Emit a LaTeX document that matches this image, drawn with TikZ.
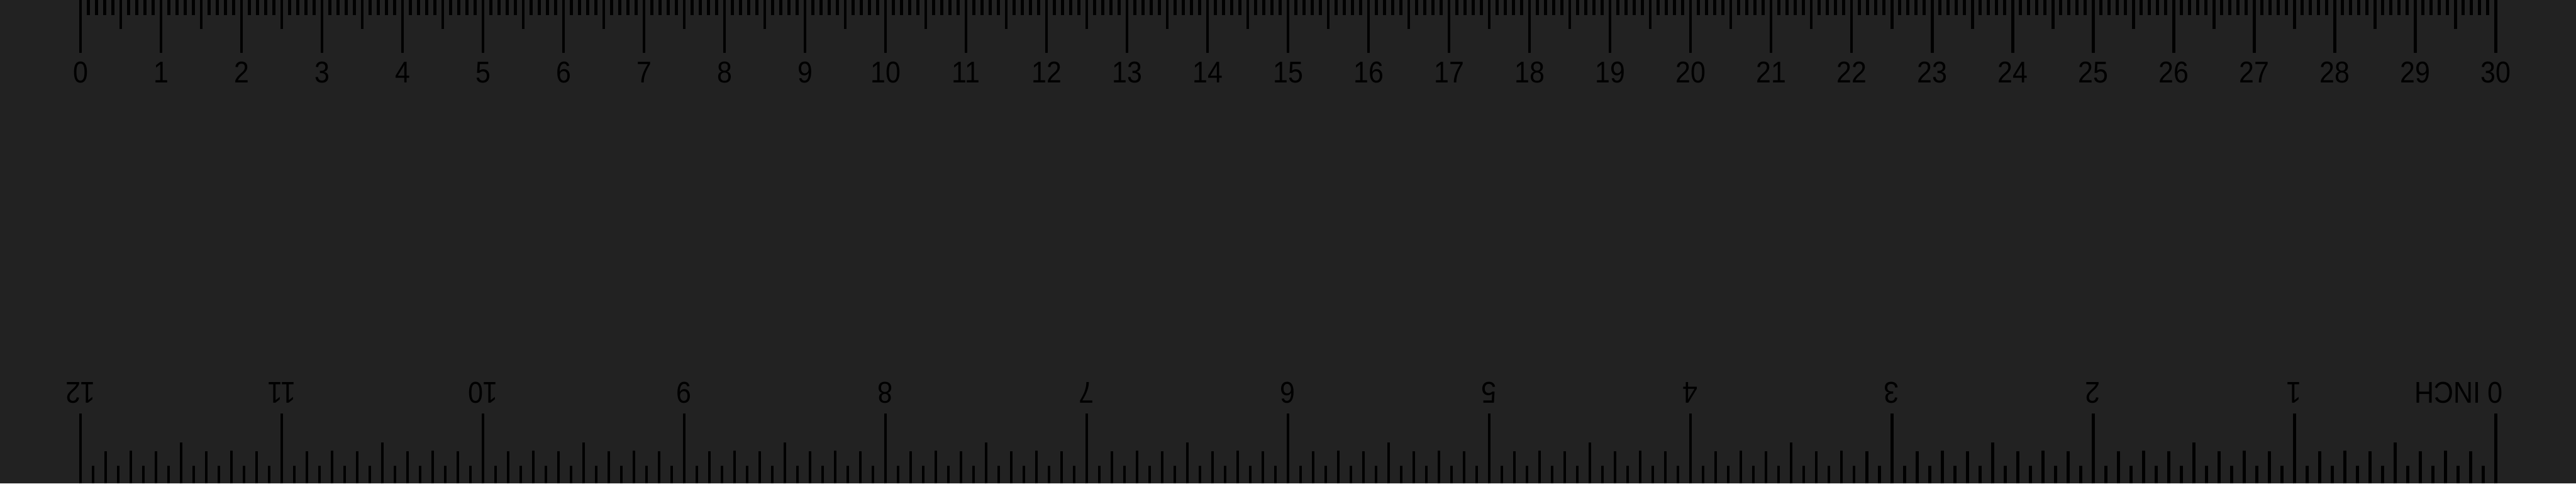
\documentclass[tikz,border=0pt]{standalone}
\usepackage{fontspec}
\setmainfont{Liberation Sans}[FakeStretch=0.9]
\usepackage{tikz}
\usetikzlibrary{positioning}
\definecolor{rulerbg}{RGB}{34, 34, 34}
\definecolor{tickblack}{RGB}{0, 0, 0}

\begin{document}
\begin{tikzpicture}[x=1cm, y=1cm,
    rulertick/.style={draw=tickblack, line width=1.1pt},
    scalelabel/.style={font=\fontsize{10.6}{12}\selectfont, text=tickblack, inner sep=0pt, anchor=base}]
        % dark background
        \fill[rulerbg] (0, 0) rectangle (32, 6);
        \useasboundingbox (0, 0) rectangle (32, 6);

        % cm scale along the top edge
        \foreach \m in {0, ..., 300} {
            \draw[rulertick] (1+\m/10, 6) -- (1+\m/10, 5.81);
        }
        \foreach \h in {0, ..., 29} {
            \draw[rulertick] (1.5+\h, 6) -- (1.5+\h, 5.641);
        }
        \foreach \c in {0, ..., 30} {
            \draw[rulertick] (1+\c, 6) -- (1+\c, 5.341);
            \node[scalelabel] (cm\c) at (1+\c, 4.971) {\c};
        }

        % inch scale along the bottom edge, upside down
        \foreach \s in {0, ..., 192} {
            \draw[rulertick] (31-\s*2.5/16, 0) -- (31-\s*2.5/16, 0.222);
        }
        \foreach \e in {0, ..., 96} {
            \draw[rulertick] (31-\e*2.5/8, 0) -- (31-\e*2.5/8, 0.399);
        }
        \foreach \q in {0, ..., 48} {
            \draw[rulertick] (31-\q*2.5/4, 0) -- (31-\q*2.5/4, 0.410);
        }
        \foreach \h in {0, ..., 24} {
            \draw[rulertick] (31-\h*1.25, 0) -- (31-\h*1.25, 0.511);
        }
        \foreach \i in {0, ..., 12} {
            \draw[rulertick] (31-\i*2.5, 0) -- (31-\i*2.5, 0.870);
        }
        \node[scalelabel, rotate=180] (in0) at (31, 1.254) {0\rlap{ INCH}};
        \foreach \i in {1, ..., 12} {
            \node[scalelabel, rotate=180] (in\i) at (31-\i*2.5, 1.254) {\i};
        }
    \end{tikzpicture}
\end{document}
